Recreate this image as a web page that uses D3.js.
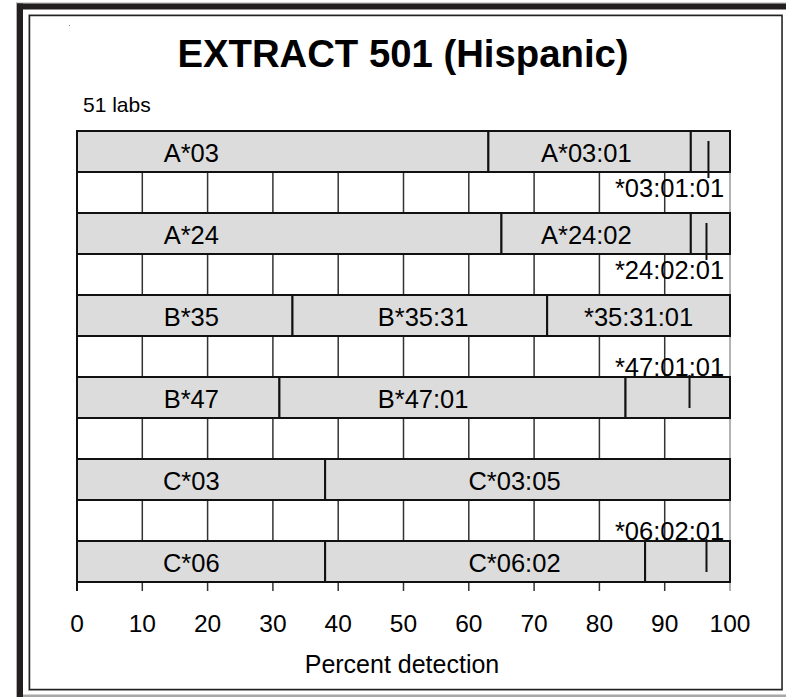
<!DOCTYPE html>
<html>
<head>
<meta charset="utf-8">
<script src="https://cdn.jsdelivr.net/npm/d3@7"></script>
<style>
  html, body { margin: 0; padding: 0; background: #fff; }
  svg { display: block; }
  text { font-family: "Liberation Sans", Arial, Helvetica, sans-serif; fill: #000; }
</style>
</head>
<body>
<script>
// ---------------- data ----------------
const categories   = ["A*03", "A*24", "B*35", "B*47", "C*03", "C*06"];
const level2Labels = ["A*03:01", "A*24:02", "B*35:31", "B*47:01", "C*03:05", "C*06:02"];
const level3Labels = ["*03:01:01", "*24:02:01", "*35:31:01", "*47:01:01", "", "*06:02:01"];
const level1Pct    = [63, 65, 33, 31, 38, 38];      // end of first (2-digit) segment
const level2Pct    = [94, 94, 72, 84, 100, 87];     // end of second (4-digit) segment
const level3Marker = [96.7, 96.4, null, 93.8, null, 96.4]; // marker for 6-digit detection
const xTicks       = [0, 10, 20, 30, 40, 50, 60, 70, 80, 90, 100];
const titleText    = "EXTRACT 501 (Hispanic)";
const subtitleText = "51 labs";
const xAxisTitle   = "Percent detection";

// ---------------- layout (not data) ----------------
const W = 786, H = 697;
const level3Placement = ["below", "below", "inside", "above", "none", "above"];
const level1LabelAt = 17.5;                        // label anchor in % units
const level2LabelAt = [78, 78, 53, 53, 67, 67];    // label anchor in % units
const barFont = "25.5px";

const svg = d3.select("body").append("svg").attr("width", W).attr("height", H);

// ---- frame ----
svg.append("rect").attr("x", 16).attr("y", 2.5).attr("width", W - 16).attr("height", 1).attr("fill", "#b0b0b0");
svg.append("rect").attr("x", 16).attr("y", 2.5).attr("width", 1).attr("height", H).attr("fill", "#b0b0b0");
svg.append("rect").attr("x", 17).attr("y", 3.5).attr("width", W - 17).attr("height", 6).attr("fill", "#231f20");
svg.append("rect").attr("x", 17).attr("y", 3.5).attr("width", 6).attr("height", H).attr("fill", "#231f20");
svg.append("rect").attr("x", 23).attr("y", 694.5).attr("width", W - 23).attr("height", 2.5).attr("fill", "#a8a8a8");
svg.append("rect").attr("x", 28.5).attr("y", 14.5).attr("width", 754).attr("height", 676)
  .attr("fill", "none").attr("stroke", "#c0c0c0").attr("stroke-width", 1);
svg.append("rect").attr("x", 29.5).attr("y", 15.5).attr("width", 752.5).attr("height", 674)
  .attr("fill", "none").attr("stroke", "#222").attr("stroke-width", 1.5);
svg.append("rect").attr("x", 69).attr("y", 25).attr("width", 1).attr("height", 1).attr("fill", "#888");

// ---- scales ----
const x = d3.scaleLinear().domain([0, 100]).range([77, 730]);
const y = d3.scaleBand().domain(categories).range([131, 582]).paddingInner(0.5).paddingOuter(0);
const bh = y.bandwidth();

// ---- titles ----
svg.append("text").attr("x", 403).attr("y", 67).attr("text-anchor", "middle")
  .style("font-size", "38.3px").style("font-weight", "bold").text(titleText);
svg.append("text").attr("x", 83).attr("y", 112).style("font-size", "21px").text(subtitleText);

// ---- grid in gaps between bars ----
const gaps = categories.slice(0, -1).map((c, i) => ({ top: y(c) + bh, bottom: y(categories[i + 1]) }));
gaps.push({ top: y(categories[categories.length - 1]) + bh, bottom: 591 });
const g = svg.append("g");
gaps.forEach(gp => {
  g.selectAll(null).data(xTicks.filter(t => t > 0)).enter().append("line")
    .attr("x1", d => x(d)).attr("x2", d => x(d))
    .attr("y1", gp.top).attr("y2", gp.bottom)
    .attr("stroke", d => d === 100 ? "#999" : "#333").attr("stroke-width", 1.5);
});
// left axis line
svg.append("line").attr("x1", x(0)).attr("x2", x(0)).attr("y1", y(categories[0])).attr("y2", 591)
  .attr("stroke", "#111").attr("stroke-width", 2);

// ---- bars ----
const rows = categories.map((c, i) => ({
  cat: c, l1: level1Pct[i], l2: level2Pct[i], m: level3Marker[i],
  lab2: level2Labels[i], lab3: level3Labels[i], place: level3Placement[i], lab2At: level2LabelAt[i]
}));
const rowG = svg.selectAll("g.row").data(rows).enter().append("g").attr("class", "row");

function segs(d) {
  const s = [[0, d.l1], [d.l1, d.l2]];
  if (d.l2 < 100) s.push([d.l2, 100]);
  return s.map(v => ({ a: v[0], b: v[1], cat: d.cat }));
}
rowG.selectAll("rect").data(d => segs(d)).enter().append("rect")
  .attr("x", d => x(d.a)).attr("width", d => x(d.b) - x(d.a))
  .attr("y", d => y(d.cat)).attr("height", bh)
  .attr("fill", "#dcdcdc").attr("stroke", "#111").attr("stroke-width", 2);

// level 1 labels
rowG.append("text").attr("x", x(level1LabelAt)).attr("y", d => y(d.cat) + bh / 2 + 10)
  .attr("text-anchor", "middle").style("font-size", barFont).text(d => d.cat);
// level 2 labels
rowG.append("text").attr("x", d => x(d.lab2At)).attr("y", d => y(d.cat) + bh / 2 + 10)
  .attr("text-anchor", "middle").style("font-size", barFont).text(d => d.lab2);

// level 3 markers
rowG.filter(d => d.m != null).append("line")
  .attr("x1", d => x(d.m)).attr("x2", d => x(d.m))
  .attr("y1", d => d.place === "below" ? y(d.cat) + 10 : y(d.cat) - 2)
  .attr("y2", d => d.place === "below" ? y(d.cat) + bh + 6 : y(d.cat) + bh - 10)
  .attr("stroke", "#111").attr("stroke-width", 2);

// level 3 labels
rowG.filter(d => d.place === "inside").append("text")
  .attr("x", d => x((d.l2 + 100) / 2)).attr("y", d => y(d.cat) + bh / 2 + 10)
  .attr("text-anchor", "middle").style("font-size", barFont).text(d => d.lab3);
rowG.filter(d => d.place === "below" || d.place === "above").append("text")
  .attr("x", x(99.1)).attr("y", d => d.place === "below" ? y(d.cat) + bh + 25 : y(d.cat) - 1)
  .attr("text-anchor", "end").style("font-size", barFont).text(d => d.lab3);

// ---- x axis tick labels ----
svg.selectAll("text.tick").data(xTicks).enter().append("text").attr("class", "tick")
  .attr("x", d => x(d)).attr("y", 632).attr("text-anchor", "middle")
  .style("font-size", "24.5px").text(d => d);
svg.append("text").attr("x", 402).attr("y", 673).attr("text-anchor", "middle")
  .style("font-size", "25px").text(xAxisTitle);
</script>
</body>
</html>
